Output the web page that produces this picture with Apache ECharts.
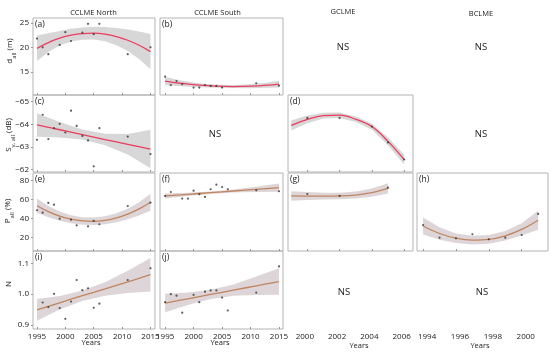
<!DOCTYPE html>
<html><head><meta charset="utf-8">
<script src="https://cdn.jsdelivr.net/npm/echarts@6/dist/echarts.min.js"></script>
<style>html,body{margin:0;padding:0;background:#fff}#c{width:550px;height:354px}</style>
</head><body><div id="c"></div>
<script>
// ---------- column / row headings and tick labels ----------
const colTitles = ['CCLME North', 'CCLME South', 'GCLME', 'BCLME'];
const xTicksC1 = [1995, 2000, 2005, 2010, 2015];
const xTicksC2 = [1995, 2000, 2005, 2010, 2015];
const xTicksC3 = [2000, 2002, 2004, 2006];
const xTicksC4 = [1994, 1996, 1998, 2000];
const yTicksR1 = [15, 20, 25];
const yTicksR2 = [-65, -64, -63, -62];
const yTicksR3 = [20, 40, 60, 80];
const yTicksR4 = [0.9, 1.0, 1.1];

// ---------- (a) d_all CCLME North ----------
const aYears = [1995,1996,1997,1999,2000,2001,2003,2004,2005,2006,2011,2015];
const aVals  = [21.8,20.0,18.6,20.5,23.1,21.3,23.0,24.8,22.7,24.8,18.6,20.0];
const aFitYears = [1995,1997,1999,2001,2003,2005,2007,2009,2011,2013,2015];
const aFit = [19.8,20.97,21.86,22.48,22.82,22.89,22.69,22.2,21.45,20.42,19.12];
const aLo  = [17.2,19.07,20.36,21.18,21.57,21.59,21.24,20.45,19.25,17.62,15.52];
const aHi  = [22.4,22.87,23.36,23.78,24.07,24.19,24.14,23.95,23.65,23.22,22.72];

// ---------- (b) d_all CCLME South ----------
const bYears = [1995,1996,1997,1998,2000,2001,2002,2003,2004,2005,2011,2015];
const bVals  = [14.0,12.3,13.1,12.45,11.76,11.76,12.3,12.1,12.1,11.76,12.65,12.16];
const bFitYears = [1995,1998,2001,2004,2007,2010,2013,2015];
const bFit = [13.1,12.61,12.26,12.05,11.98,12.05,12.26,12.48];
const bLo  = [12.25,12.06,11.86,11.75,11.68,11.65,11.71,11.78];
const bHi  = [13.95,13.16,12.66,12.35,12.28,12.45,12.81,13.18];

// ---------- (c) S_v,all CCLME North ----------
const cYears = [1995,1996,1997,1998,1999,2000,2001,2002,2003,2004,2005,2006,2011,2015];
const cVals  = [-63.32,-64.42,-63.35,-63.83,-64.02,-63.64,-64.6,-63.93,-63.49,-63.29,-62.15,-63.83,-63.46,-62.69];
const cFitYears = [1995,1999,2003,2007,2011,2015];
const cFit = [-63.97,-63.76,-63.55,-63.33,-63.12,-62.91];
const cLo  = [-64.49,-64.10,-63.77,-63.58,-63.57,-63.76];
const cHi  = [-63.45,-63.42,-63.33,-63.08,-62.67,-62.06];

// ---------- (d) S_v,all GCLME ----------
const dYears = [2000,2002,2004,2005,2006];
const dVals  = [-64.28,-64.28,-63.9,-63.2,-62.45];
const dFitYears = [1999,2000,2001,2002,2003,2004,2005,2006];
const dFit = [-63.95,-64.22,-64.38,-64.4,-64.22,-63.9,-63.25,-62.45];
const dLo  = [-64.17,-64.39,-64.51,-64.52,-64.34,-64.03,-63.42,-62.67];
const dHi  = [-63.73,-64.05,-64.25,-64.28,-64.10,-63.77,-63.08,-62.23];

// ---------- (e) P_all CCLME North ----------
const eYears = [1995,1996,1997,1998,1999,2001,2002,2004,2005,2006,2011,2015];
const eVals  = [48.7,46.1,56.4,54.6,39.8,38.7,32.8,31.7,37.4,33.9,53.2,56.7];
const eFitYears = [1995,1997,1999,2001,2003,2005,2007,2009,2011,2013,2015];
const eFit = [53.5,47.3,42.5,39.2,37.4,37.0,38.1,40.7,44.7,50.2,57.2];
const eLo  = [46,41.3,37.5,34.9,33.4,33,33.9,36,39.2,43.2,48.2];
const eHi  = [61,53.3,47.5,43.5,41.4,41,42.3,45.4,50.2,57.2,66.2];

// ---------- (f) P_all CCLME South ----------
const fYears = [1995,1996,1998,1999,2000,2001,2002,2003,2004,2005,2006,2011,2015];
const fVals  = [63.8,68.0,61.0,61.0,69.4,65.6,62.8,70.9,75.8,73.3,70.9,69.8,68.8];
const fFitYears = [1995,1999,2003,2007,2011,2015];
const fFit = [63.8,65.56,67.32,69.08,70.84,72.6];
const fLo  = [61.2,63.86,66.02,67.48,68.04,68.2];
const fHi  = [66.4,67.26,68.62,70.68,73.64,77.0];

// ---------- (g) P_all GCLME ----------
const gYears = [2000,2002,2005];
const gVals  = [65.9,63.8,72.6];
const gFitYears = [1999,2000,2001,2002,2003,2004,2005];
const gFit = [63.8,63.7,63.6,63.8,64.8,67.3,71.8];
const gLo  = [58.8,59.5,60,60.3,61.1,62.9,66.3];
const gHi  = [68.8,67.9,67.2,67.3,68.5,71.7,77.3];

// ---------- (h) P_all BCLME ----------
const hYears = [1994,1995,1996,1997,1998,1999,2000,2001];
const hVals  = [33.1,19.7,19.0,23.3,18.0,19.7,22.5,44.8];
const hFitYears = [1994,1995,1996,1997,1998,1999,2000,2001];
const hFit = [32,24.1,19.1,17.1,17.9,21.7,28.4,38.1];
const hLo  = [23,17.6,14.1,12.6,13.4,16.7,21.9,28.1];
const hHi  = [41,30.6,24.1,21.6,22.4,26.7,34.9,48.1];

// ---------- (i) N CCLME North ----------
const iYears = [1996,1997,1998,1999,2000,2001,2002,2003,2004,2005,2006,2011,2015];
const iVals  = [0.973,0.958,1.001,0.955,0.920,0.976,1.046,1.013,1.019,0.956,0.969,1.046,1.084];
const iFitYears = [1995,1999,2003,2007,2011,2015];
const iFit = [0.949,0.972,0.995,1.017,1.040,1.063];
const iLo  = [0.914,0.950,0.978,0.995,1.004,1.009];
const iHi  = [0.984,0.994,1.012,1.039,1.076,1.117];

// ---------- (j) N CCLME South ----------
const jYears = [1995,1996,1997,1998,2000,2001,2002,2003,2004,2005,2006,2011,2015];
const jVals  = [0.974,1.0,0.995,0.940,0.998,0.974,1.008,1.012,1.012,0.989,0.947,1.005,1.090];
const jFitYears = [1995,1999,2003,2007,2011,2015];
const jFit = [0.971,0.985,0.999,1.013,1.027,1.041];
const jLo  = [0.941,0.965,0.984,0.995,0.997,0.998];
const jHi  = [1.001,1.005,1.014,1.031,1.057,1.084];

// ---------- layout ----------
const FONT = '"Open Sans", "Noto Sans", sans-serif';
const TXT = '#222';
const colL = [33, 160, 288, 417], colW = [122, 123, 125, 131];
const rowT = [18, 95, 173, 251], rowH = [77, 77, 78, 78];
const xRange = [[1994.3, 2015.8], [1994.1, 2015.7], [1998.8, 2006.55], [1993.63, 2001.6]];
const yRange = [[10.25, 26], [-65.29, -61.9], [5.6, 88.1], [0.887, 1.14]];
const xTicks = [xTicksC1, xTicksC2, xTicksC3, xTicksC4];
const xLabelPad = [[0, 0, 0, 0], [0, 0, 0, 0], [0, 5, 0, 0], [0, 0, 0, 8]];
const yTicks = [yTicksR1, yTicksR2, yTicksR3, yTicksR4];
const yFmt = [v => String(v), v => String(v).replace('-', '\u2212'), v => String(v), v => v.toFixed(1)];
const RED = '#ec3d5e', BROWN = '#c08560';
const BAND1 = 'rgba(190,190,190,0.62)', BAND2 = 'rgba(200,188,190,0.62)';

const panels = [
  {tag:'(a)', r:0, c:0, ys:aYears, vs:aVals, fx:aFitYears, fit:aFit, lo:aLo, hi:aHi},
  {tag:'(b)', r:0, c:1, ys:bYears, vs:bVals, fx:bFitYears, fit:bFit, lo:bLo, hi:bHi},
  {tag:'(c)', r:1, c:0, ys:cYears, vs:cVals, fx:cFitYears, fit:cFit, lo:cLo, hi:cHi},
  {tag:'(d)', r:1, c:2, ys:dYears, vs:dVals, fx:dFitYears, fit:dFit, lo:dLo, hi:dHi},
  {tag:'(e)', r:2, c:0, ys:eYears, vs:eVals, fx:eFitYears, fit:eFit, lo:eLo, hi:eHi},
  {tag:'(f)', r:2, c:1, ys:fYears, vs:fVals, fx:fFitYears, fit:fFit, lo:fLo, hi:fHi},
  {tag:'(g)', r:2, c:2, ys:gYears, vs:gVals, fx:gFitYears, fit:gFit, lo:gLo, hi:gHi},
  {tag:'(h)', r:2, c:3, ys:hYears, vs:hVals, fx:hFitYears, fit:hFit, lo:hLo, hi:hHi},
  {tag:'(i)', r:3, c:0, ys:iYears, vs:iVals, fx:iFitYears, fit:iFit, lo:iLo, hi:iHi},
  {tag:'(j)', r:3, c:1, ys:jYears, vs:jVals, fx:jFitYears, fit:jFit, lo:jLo, hi:jHi},
  {tag:null, r:3, c:2},
  {tag:null, r:3, c:3}
];

const grids = [], xAxes = [], yAxes = [], series = [], graphics = [];
panels.forEach((p, k) => {
  const has = !!p.tag;
  grids.push({left: colL[p.c], top: rowT[p.r], width: colW[p.c], height: rowH[p.r],
    show: has, borderColor: '#b4b4b4', borderWidth: 1});
  xAxes.push({type:'value', gridIndex:k, min:xRange[p.c][0], max:xRange[p.c][1],
    axisLine:{show:false}, splitLine:{show:false},
    axisTick:{show:has, inside:true, length:2, customValues:xTicks[p.c], lineStyle:{color:'#999'}},
    axisLabel:{show:p.r === 3, customValues:xTicks[p.c], formatter:v => String(v),
      padding:xLabelPad[p.c], fontSize:8, fontFamily:FONT, color:TXT, margin:4}});
  yAxes.push({type:'value', gridIndex:k, min:yRange[p.r][0], max:yRange[p.r][1], inverse:p.r === 1,
    axisLine:{show:false}, splitLine:{show:false},
    axisTick:{show:p.c === 0, length:2, customValues:yTicks[p.r], lineStyle:{color:'#999'}},
    axisLabel:{show:p.c === 0, customValues:yTicks[p.r], formatter:yFmt[p.r], fontSize:8, fontFamily:FONT, color:TXT, margin:4}});
  if (!has) return;
  const lineColor = p.r < 2 ? RED : BROWN;
  const band = p.r < 2 ? BAND1 : BAND2;
  series.push({type:'custom', xAxisIndex:k, yAxisIndex:k, silent:true, z:1,
    data:[[p.fx[0], p.fit[0]]],
    renderItem: (params, api) => {
      const pts = [];
      for (let i = 0; i < p.fx.length; i++) pts.push(api.coord([p.fx[i], p.hi[i]]));
      for (let i = p.fx.length - 1; i >= 0; i--) pts.push(api.coord([p.fx[i], p.lo[i]]));
      return {type:'polygon', shape:{points:pts}, style:{fill:band, stroke:null}};
    }});
  series.push({type:'line', xAxisIndex:k, yAxisIndex:k, z:2, smooth:0.4, showSymbol:false, silent:true,
    data:p.fx.map((x, i) => [x, p.fit[i]]), lineStyle:{color:lineColor, width:1.3}});
  series.push({type:'scatter', xAxisIndex:k, yAxisIndex:k, z:3, symbolSize:2.2, silent:true,
    data:p.ys.map((x, i) => [x, p.vs[i]]), itemStyle:{color:'#333'}});
  graphics.push({type:'text', x:colL[p.c] + 2, y:rowT[p.r] + 7, style:{text:p.tag, fontSize:8.5, fontFamily:FONT, fill:TXT, align:'left', verticalAlign:'middle'}});
});

// column titles
const titlePos = [[93.5, 13], [217.5, 12.5], [343, 11.5], [481, 13.5]];
colTitles.forEach((t, i) => graphics.push({type:'text', x:titlePos[i][0], y:titlePos[i][1],
  style:{text:t, fontSize:7.5, fontFamily:FONT, fill:TXT, align:'center', verticalAlign:'middle'}}));

// NS labels
const nsPos = [[343, 47], [481, 47], [215, 134], [481, 134], [344, 292], [482, 292]];
nsPos.forEach(q => graphics.push({type:'text', x:q[0], y:q[1],
  style:{text:'NS', fontSize:9.5, fontFamily:FONT, fill:TXT, align:'center', verticalAlign:'middle'}}));

// Years
const yearsPos = [[91, 343], [220, 343], [359, 346], [480, 346]];
yearsPos.forEach(q => graphics.push({type:'text', x:q[0], y:q[1],
  style:{text:'Years', fontSize:7.5, fontFamily:FONT, fill:TXT, align:'center', verticalAlign:'middle'}}));

// y-axis names
const richY = {
  m:{fontSize:8, fontFamily:FONT, fill:TXT, lineHeight:11, verticalAlign:'top'},
  s:{fontSize:6, fontFamily:FONT, fill:TXT, lineHeight:7, verticalAlign:'bottom'}
};
const yNames = [
  ['{m|d}{s|all}{m| (m)}', 11.5, 51],
  ['{m|S}{s|v, all}{m| (dB)}', 10.5, 135],
  ['{m|P}{s|all}{m| (%)}', 9.5, 211],
  ['{m|N}', 10.5, 284]
];
yNames.forEach(n => graphics.push({type:'text', x:n[1], y:n[2], rotation:Math.PI / 2,
  style:{text:n[0], rich:richY, align:'center', verticalAlign:'middle', fill:TXT}}));

const chart = echarts.init(document.getElementById('c'), null, {renderer:'canvas'});
chart.setOption({
  animation:false,
  backgroundColor:'#fff',
  grid:grids, xAxis:xAxes, yAxis:yAxes, series:series, graphic:graphics
});
</script></body></html>
